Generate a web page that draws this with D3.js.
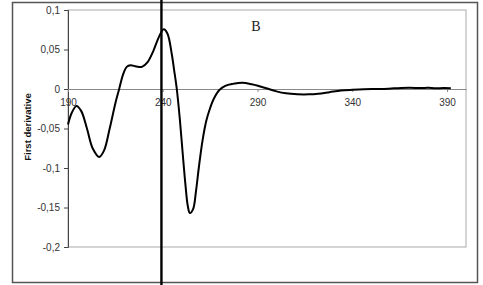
<!DOCTYPE html>
<html>
<head>
<meta charset="utf-8">
<script src="https://cdn.jsdelivr.net/npm/d3@7"></script>
<style>
  body { margin: 0; background: #fff; }
  svg text { font-family: Arial, "Liberation Sans", sans-serif; }
</style>
</head>
<body>
<div id="chart"></div>
<script>
// wavelength (nm) and first derivative
var wl = [190, 192, 194.5, 197, 200, 203, 206.5, 209, 212, 215, 217, 219, 221, 223, 226, 229, 232, 235, 238, 240.5,
  242.5, 244.7, 246, 247.4, 249, 250.5, 252, 253.2, 254.3, 256, 257.5, 259, 261, 263, 265, 267, 270, 273, 277, 282, 287,
  291, 296, 300, 305, 311, 317, 322, 328, 334, 340, 346, 355, 362, 370, 376, 380, 384, 388, 392]
var deriv = [-0.045, -0.030, -0.0215, -0.028, -0.050, -0.075, -0.086, -0.078, -0.050, -0.018, 0.000, 0.018, 0.028, 0.030, 0.0285, 0.028, 0.034, 0.048, 0.066, 0.0755,
  0.070, 0.045, 0.024, 0.000, -0.038, -0.081, -0.122, -0.148, -0.157, -0.152, -0.130, -0.100, -0.065, -0.040, -0.024, -0.012, -0.001, 0.004, 0.0065, 0.008, 0.006,
  0.0035, 0.000, -0.003, -0.0055, -0.0067, -0.0068, -0.006, -0.004, -0.002, -0.001, -0.0003, 0.000, 0.0008, 0.0015, 0.0012, 0.0015, 0.0008, 0.0012, 0.001]

var xTicks = [190, 240, 290, 340, 390]
var yTicks = [0.1, 0.05, 0, -0.05, -0.1, -0.15, -0.2]
var markerX = 239.3
var panelLabel = 'B'
var yTitle = 'First derivative'

var data = wl.map(function(d, i){ return {x: d, y: deriv[i]} })

var width = 483, height = 285
var margin = {left: 68, right: 17, top: 10, bottom: 38}

var svg = d3.select('#chart').append('svg')
  .attr('width', width).attr('height', height)

// outer frame
svg.append('rect')
  .attr('x', 12.5).attr('y', 2.5).attr('width', 465).attr('height', 280)
  .attr('fill', 'none').attr('stroke', '#555').attr('stroke-width', 1.5)

var x = d3.scaleLinear().domain([190, 400]).range([margin.left, width - margin.right])
var y = d3.scaleLinear().domain([-0.2, 0.1]).range([height - margin.bottom, margin.top])

var loc = d3.formatLocale({decimal: ',', thousands: '.', grouping: [3], currency: ['', ''], minus: '-'})
var fmt = loc.format('~g')

// plot area border
svg.append('rect')
  .attr('x', x(190)).attr('y', y(0.1))
  .attr('width', x(400) - x(190)).attr('height', y(-0.2) - y(0.1))
  .attr('fill', 'none').attr('stroke', '#aaa').attr('stroke-width', 1)

// y axis
var yAxis = svg.append('g')
  .attr('transform', 'translate(' + x(190) + ',0)')
  .call(d3.axisLeft(y).tickValues(yTicks).tickFormat(fmt).tickSize(4).tickPadding(4))
yAxis.select('.domain').attr('stroke', '#444')
yAxis.selectAll('.tick line').attr('stroke', '#444')
yAxis.selectAll('text').attr('font-size', 10).attr('fill', '#333')

// x axis on zero line
var xAxis = svg.append('g')
  .attr('transform', 'translate(0,' + y(0) + ')')
  .call(d3.axisBottom(x).tickValues(xTicks).tickFormat(d3.format('d')).tickSize(3).tickPadding(7).tickSizeOuter(0))
xAxis.select('.domain').attr('stroke', '#888')
xAxis.selectAll('.tick line').attr('stroke', '#888')
xAxis.selectAll('text').attr('font-size', 10).attr('fill', '#333')

// curve
var line = d3.line().x(function(d){ return x(d.x) }).y(function(d){ return y(d.y) }).curve(d3.curveCatmullRom.alpha(0.5))
svg.append('path')
  .attr('d', line(data))
  .attr('fill', 'none').attr('stroke', '#000').attr('stroke-width', 2)

// vertical marker
svg.append('line')
  .attr('x1', x(markerX)).attr('x2', x(markerX))
  .attr('y1', 0).attr('y2', height)
  .attr('stroke', '#000').attr('stroke-width', 2.4)

svg.append('text')
  .attr('x', 256).attr('y', 31)
  .attr('text-anchor', 'middle')
  .style('font-family', '"Liberation Serif", "Times New Roman", serif')
  .attr('font-size', 14).attr('fill', '#222')
  .text(panelLabel)

svg.append('text')
  .attr('transform', 'translate(31,127) rotate(-90)')
  .attr('text-anchor', 'middle')
  .attr('font-size', 9.5).attr('font-weight', 'bold').attr('fill', '#111')
  .text(yTitle)
</script>
</body>
</html>
